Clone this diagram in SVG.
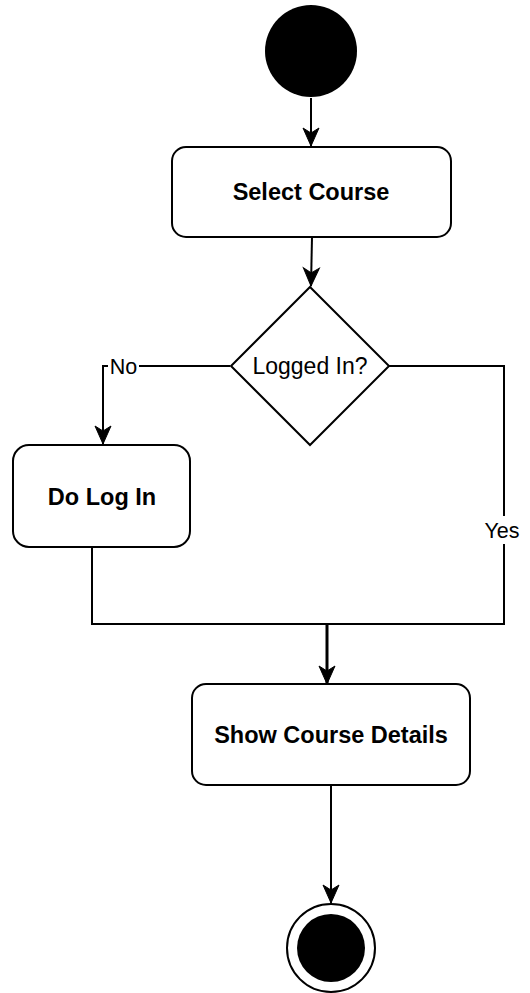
<svg xmlns="http://www.w3.org/2000/svg" width="530" height="993" viewBox="0 0 530 993">
<style>
.box{fill:#fff;stroke:#000;stroke-width:2}
.edge{fill:none;stroke:#000;stroke-width:2}
.bold{font-family:"Liberation Sans",Arial,sans-serif;font-weight:bold;font-size:23.5px;text-anchor:middle;fill:#000}
.reg{font-family:"Liberation Sans",Arial,sans-serif;font-size:23px;text-anchor:middle;fill:#000}
.lbl{font-family:"Liberation Sans",Arial,sans-serif;font-size:21.5px;text-anchor:middle;fill:#000}
</style>
<defs>
<marker id="arr" markerUnits="userSpaceOnUse" markerWidth="24" markerHeight="24" viewBox="-2 -10 24 20" refX="18" refY="0" orient="auto">
<path d="M0,-8 L18,0 L0,8 L5,0 Z" fill="#000" stroke="#000" stroke-width="1"/>
</marker>
</defs>
<rect width="530" height="993" fill="#fff"/>
<g id="connectors">
<path class="edge" d="M311,98 L311,146" marker-end="url(#arr)"/>
<path class="edge" d="M312,237 L311,286" marker-end="url(#arr)"/>
<path class="edge" d="M230,366 L103,366 L103,444" marker-end="url(#arr)"/>
<path class="edge" d="M388,366 L504,366 L504,624 L92,624 L92,547"/>
<path class="edge" style="stroke-width:3" d="M327,624 L327,684" marker-end="url(#arr)"/>
<path class="edge" d="M331,785 L331,903" marker-end="url(#arr)"/>
<rect x="108" y="353" width="31" height="26" fill="#fff"/>
<text class="lbl" x="123.5" y="374">No</text>
<rect x="484" y="516" width="36" height="28" fill="#fff"/>
<text class="lbl" x="502" y="538">Yes</text>
</g>
<g id="start">
<circle cx="311" cy="51" r="46" fill="#000"/>
</g>
<g id="selectCourse">
<rect class="box" x="172" y="147" width="279" height="90" rx="14"/>
<text class="bold" x="311" y="200">Select Course</text>
</g>
<g id="loggedIn">
<polygon class="box" points="310,287 389,366 310,445 231,366"/>
<text class="reg" x="310" y="374">Logged In?</text>
</g>
<g id="doLogIn">
<rect class="box" x="13" y="445" width="177" height="102" rx="16"/>
<text class="bold" x="102" y="505">Do Log In</text>
</g>
<g id="showCourseDetails">
<rect class="box" x="192" y="684" width="278" height="101" rx="14"/>
<text class="bold" x="331" y="743">Show Course Details</text>
</g>
<g id="end">
<circle cx="331" cy="948" r="44" fill="#fff" stroke="#000" stroke-width="2"/>
<circle cx="331" cy="948" r="34" fill="#000"/>
</g>
</svg>
